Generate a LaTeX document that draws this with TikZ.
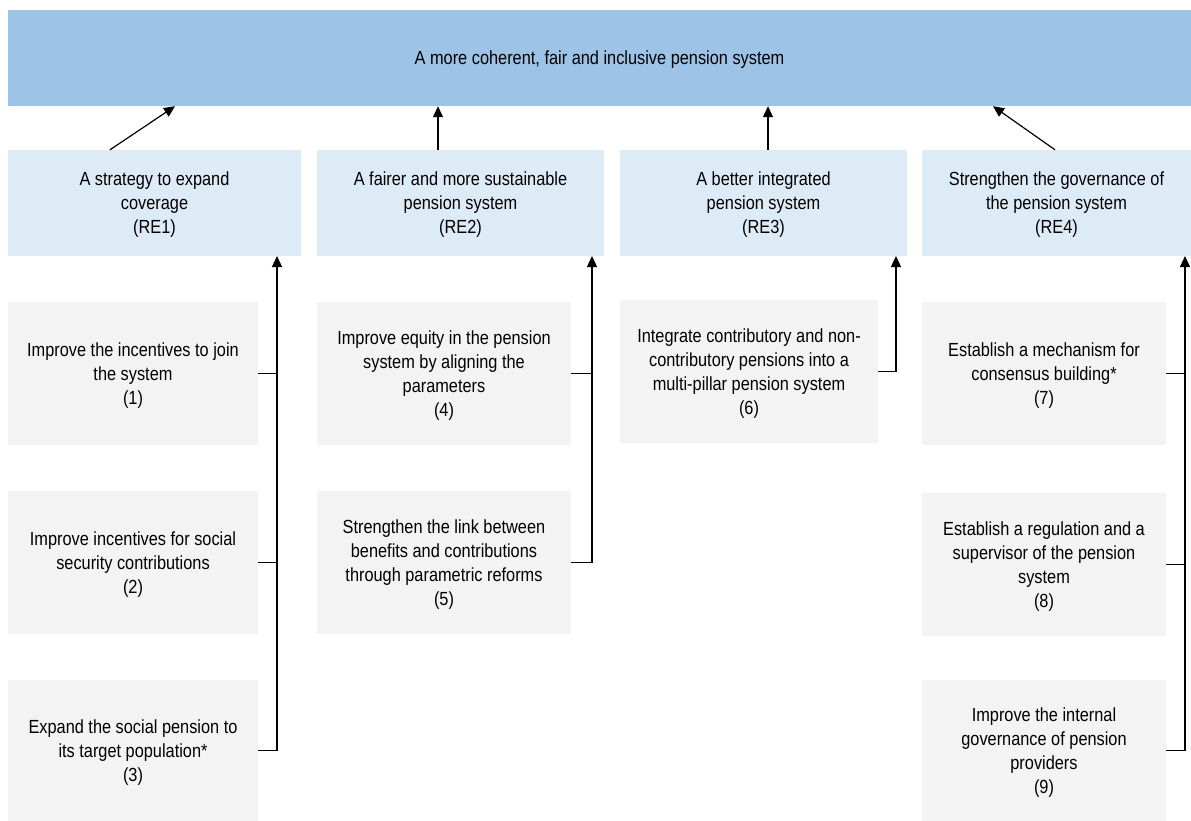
\documentclass[tikz,border=0pt]{standalone}
\usepackage{fontspec}
\setmainfont{Liberation Sans}[FakeStretch=0.86]
\usetikzlibrary{arrows.meta}
\definecolor{goalblue}{HTML}{9DC3E6}
\definecolor{resultblue}{HTML}{DDEBF7}
\definecolor{actiongray}{HTML}{F3F3F3}

\begin{document}
\begin{tikzpicture}[x=1pt,y=-1pt,
    box/.style={inner sep=0pt, align=center, text=black, text depth=-6pt,
      font=\fontsize{19}{24}\selectfont},
    goal/.style={box, fill=goalblue, minimum width=1183pt, minimum height=96pt},
    result/.style={box, fill=resultblue, minimum height=106pt},
    action/.style={box, fill=actiongray},
    link/.style={line width=1.2pt},
    arr/.style={link, -{Triangle[length=11pt,width=10pt]}}]
  \useasboundingbox (0,0) rectangle (1191,821);

  % overall objective
  \node[goal] (goal) at (599.5,58) {A more coherent, fair and inclusive pension system};

  % expected results
  \node[result, minimum width=293pt] (re1) at (154.5,203)
    {A strategy to expand\\coverage\\(RE1)};
  \node[result, minimum width=287pt] (re2) at (460.5,203)
    {A fairer and more sustainable\\pension system\\(RE2)};
  \node[result, minimum width=287pt] (re3) at (763.5,203)
    {A better integrated\\pension system\\(RE3)};
  \node[result, minimum width=269pt] (re4) at (1056.5,203)
    {Strengthen the governance of\\the pension system\\(RE4)};

  % actions, first column
  \node[action, minimum width=250pt, minimum height=143pt] (a1) at (133,373.5)
    {Improve the incentives to join\\the system\\(1)};
  \node[action, minimum width=250pt, minimum height=143pt] (a2) at (133,562.5)
    {Improve incentives for social\\security contributions\\(2)};
  \node[action, minimum width=250pt, minimum height=141pt] (a3) at (133,750.5)
    {Expand the social pension to\\its target population*\\(3)};

  % actions, second column
  \node[action, minimum width=254pt, minimum height=143pt] (a4) at (444,373.5)
    {Improve equity in the pension\\system by aligning the\\parameters\\(4)};
  \node[action, minimum width=254pt, minimum height=143pt] (a5) at (444,562.5)
    {Strengthen the link between\\benefits and contributions\\through parametric reforms\\(5)};

  % actions, third column
  \node[action, minimum width=258pt, minimum height=143pt] (a6) at (749,371.5)
    {Integrate contributory and non-\\contributory pensions into a\\multi-pillar pension system\\(6)};

  % actions, fourth column
  \node[action, minimum width=244pt, minimum height=143pt] (a7) at (1044,373.5)
    {Establish a mechanism for\\consensus building*\\(7)};
  \node[action, minimum width=244pt, minimum height=143pt] (a8) at (1044,564.5)
    {Establish a regulation and a\\supervisor of the pension\\system\\(8)};
  \node[action, minimum width=244pt, minimum height=141pt] (a9) at (1044,750.5)
    {Improve the internal\\governance of pension\\providers\\(9)};

  % results feed the objective
  \draw[arr] ([xshift=-44.5pt]re1.north) -- ([xshift=-424.5pt]goal.south);
  \draw[arr] ([xshift=-22.5pt]re2.north) -- ([xshift=-22.5pt]re2.north |- goal.south);
  \draw[arr] ([xshift=4.5pt]re3.north) -- ([xshift=4.5pt]re3.north |- goal.south);
  \draw[arr] ([xshift=-1.5pt]re4.north) -- ([xshift=393.5pt]goal.south);

  % actions feed the results
  \coordinate (c1) at (277,256);
  \coordinate (c2) at (592,256);
  \coordinate (c3) at (896,256);
  \coordinate (c4) at (1185,256);
  \foreach \a/\c in {a1/c1, a2/c1, a4/c2, a7/c4, a8/c4}
    \draw[link] (\a.east) -- (\a.east -| \c);
  \foreach \a/\c in {a3/c1, a5/c2, a6/c3, a9/c4}
    \draw[arr] (\a.east) -| (\c);

\end{tikzpicture}
\end{document}
